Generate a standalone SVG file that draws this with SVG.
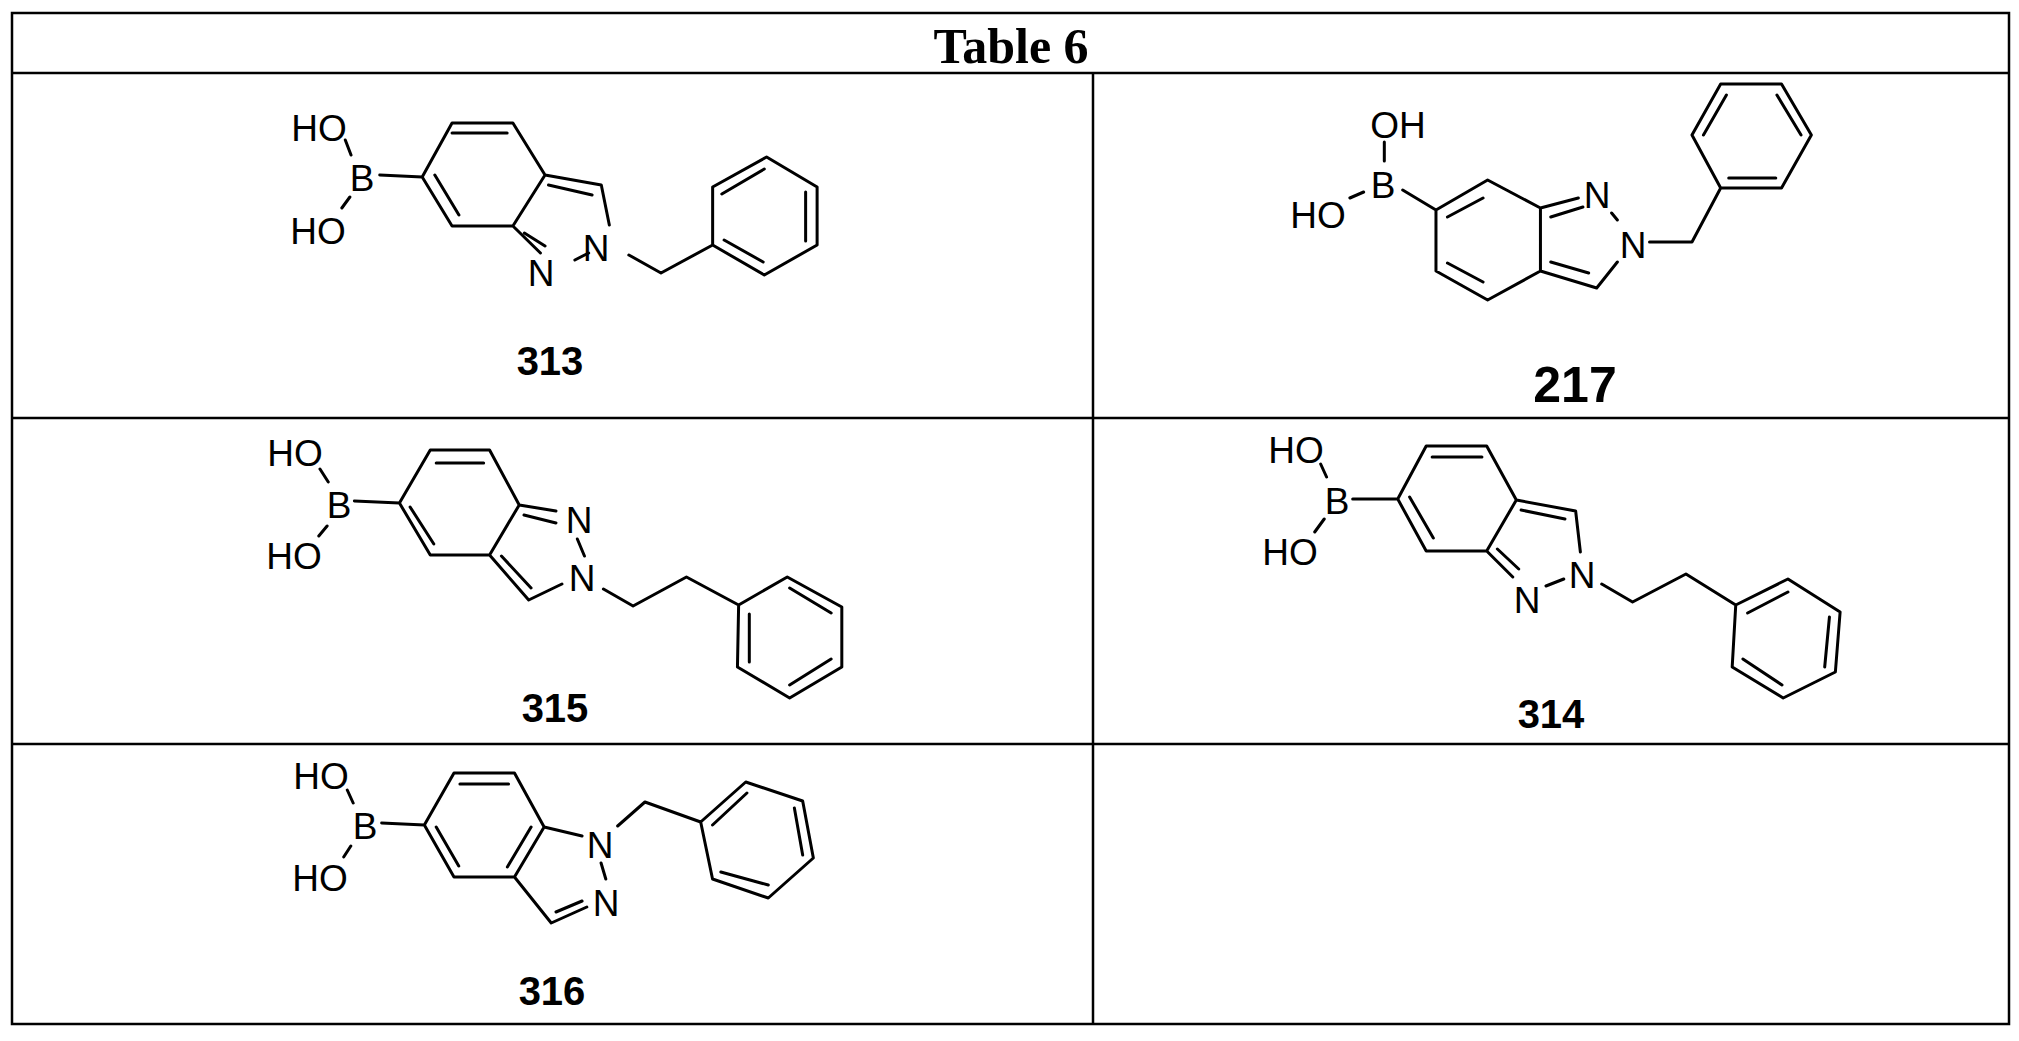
<svg xmlns="http://www.w3.org/2000/svg" width="2019" height="1041" viewBox="0 0 2019 1041">
<style>
.t{fill:none;stroke:#000;stroke-width:2.5}
.b{fill:none;stroke:#000;stroke-width:3;stroke-linecap:round;stroke-linejoin:round;vector-effect:non-scaling-stroke}
.a{font-family:"Liberation Sans",Arial,sans-serif;font-size:37px;text-anchor:middle;fill:#000}
.l{font-family:"Liberation Sans",Arial,sans-serif;font-size:40px;font-weight:bold;text-anchor:middle;fill:#000}
.h{font-family:"Liberation Serif","Times New Roman",serif;font-size:50px;font-weight:bold;text-anchor:middle;fill:#000}
</style>
<rect width="2019" height="1041" fill="#fff"/>
<g id="table">
<rect class="t" x="12" y="13" width="1997" height="1011"/>
<line class="t" x1="12" y1="73" x2="2009" y2="73"/>
<line class="t" x1="12" y1="418" x2="2009" y2="418"/>
<line class="t" x1="12" y1="744" x2="2009" y2="744"/>
<line class="t" x1="1093" y1="73" x2="1093" y2="1024"/>
<text class="h" x="1011" y="63">Table 6</text>
</g>
<g id="m313">
<text class="a" x="319" y="141">HO</text>
<text class="a" x="362" y="191">B</text>
<text class="a" x="318" y="244">HO</text>
<text class="a" x="596" y="261">N</text>
<text class="a" x="541" y="286">N</text>
<path class="b" transform="translate(250,0) scale(1.148,1) translate(-250,0)" d="M333,140L338,155M337,197L330,208M363,175L400,177M400,177L426,123L479,123L507,175L479,226L426,226Z M507,175L556,185L563,225M545,253L533,260M479,226L503,253M580,255L608,273L653,245M653,245L653,187L700,157L744,187L744,245L698,275Z M426,133L474,133M411,175L432,215M510,185L548,195M489,233L507,246M661,194L698,169M734,192L734,241M663,240L697,262"/>
<text class="l" x="550" y="375">313</text>
</g>
<g id="m217">
<text class="a" x="1398" y="138">OH</text>
<text class="a" x="1383" y="198">B</text>
<text class="a" x="1318" y="228">HO</text>
<text class="a" x="1597" y="208">N</text>
<text class="a" x="1633" y="258">N</text>
<path class="b" transform="translate(1250,0) scale(1.148,1) translate(-1250,0)" d="M1367,142L1367,161M1337,198L1349,192M1383,190L1412,210M1412,210L1457,180L1503,208L1503,271L1457,300L1412,271Z M1503,208L1536,198M1565,213L1570,220M1570,262L1552,288L1503,271M1598,242L1635,242L1660,188M1660,188L1635,135L1660,84L1713,84L1739,135L1713,188Z M1422,217L1453,198M1422,263L1453,282M1512,217L1540,207M1512,262L1545,273M1645,135L1665,95M1709,95L1730,135M1667,178L1708,178"/>
<text class="l" x="1575" y="402" style="font-size:50px">217</text>
</g>
<g id="m315">
<text class="a" x="295" y="466">HO</text>
<text class="a" x="339" y="518">B</text>
<text class="a" x="294" y="569">HO</text>
<text class="a" x="579" y="533">N</text>
<text class="a" x="582" y="591">N</text>
<path class="b" transform="translate(250,0) scale(1.186,1) translate(-250,0)" d="M309,469L316,482M315,526L308,536M338,501L376,503M376,503L402,450L452,450L477,505L452,555L402,555Z M477,505L508,511M526,539L532,556M513,584L485,600L452,555M548,589L573,606L618,577L662,605M662,605L703,577L749,607L749,667L705,698L661,667Z M407,463L447,463M385,507L405,544M481,515L508,523M462,556L487,588M671,614L671,662M705,588L740,613M740,659L705,685"/>
<text class="l" x="555" y="722">315</text>
</g>
<g id="m314">
<text class="a" x="1296" y="463">HO</text>
<text class="a" x="1337" y="514">B</text>
<text class="a" x="1290" y="565">HO</text>
<text class="a" x="1582" y="588">N</text>
<text class="a" x="1527" y="613">N</text>
<path class="b" transform="translate(1240,0) scale(1.186,1) translate(-1240,0)" d="M1308,464L1313,477M1311,519L1303,532M1335,499L1373,499M1373,499L1397,446L1448,446L1473,500L1448,551L1397,551Z M1473,500L1523,511L1527,552M1448,551L1470,577M1498,586L1513,579M1545,584L1571,602L1616,574L1658,605M1658,605L1702,579L1746,612L1742,672L1698,698L1655,667Z M1402,457L1444,457M1383,497L1403,538M1477,510L1514,519M1457,549L1475,569M1668,613L1702,592M1737,617L1733,667M1664,659L1697,685"/>
<text class="l" x="1551" y="728">314</text>
</g>
<g id="m316">
<text class="a" x="321" y="789">HO</text>
<text class="a" x="365" y="839">B</text>
<text class="a" x="320" y="891">HO</text>
<text class="a" x="600" y="858">N</text>
<text class="a" x="606" y="916">N</text>
<path class="b" transform="translate(250,0) scale(1.186,1) translate(-250,0)" d="M332,790L337,803M335,846L329,857M361,823L397,825M397,825L422,773L473,773L498,827L473,877L422,877Z M498,827L530,836M546,863L550,879M534,907L504,923L473,877M560,826L583,802L630,822M630,822L668,782L716,801L725,858L687,898L640,879Z M427,784L468,784M407,827L426,866M487,827L467,867M508,912L530,901M640,825L669,793M709,808L716,855M647,872L687,885"/>
<text class="l" x="552" y="1005">316</text>
</g>
</svg>
